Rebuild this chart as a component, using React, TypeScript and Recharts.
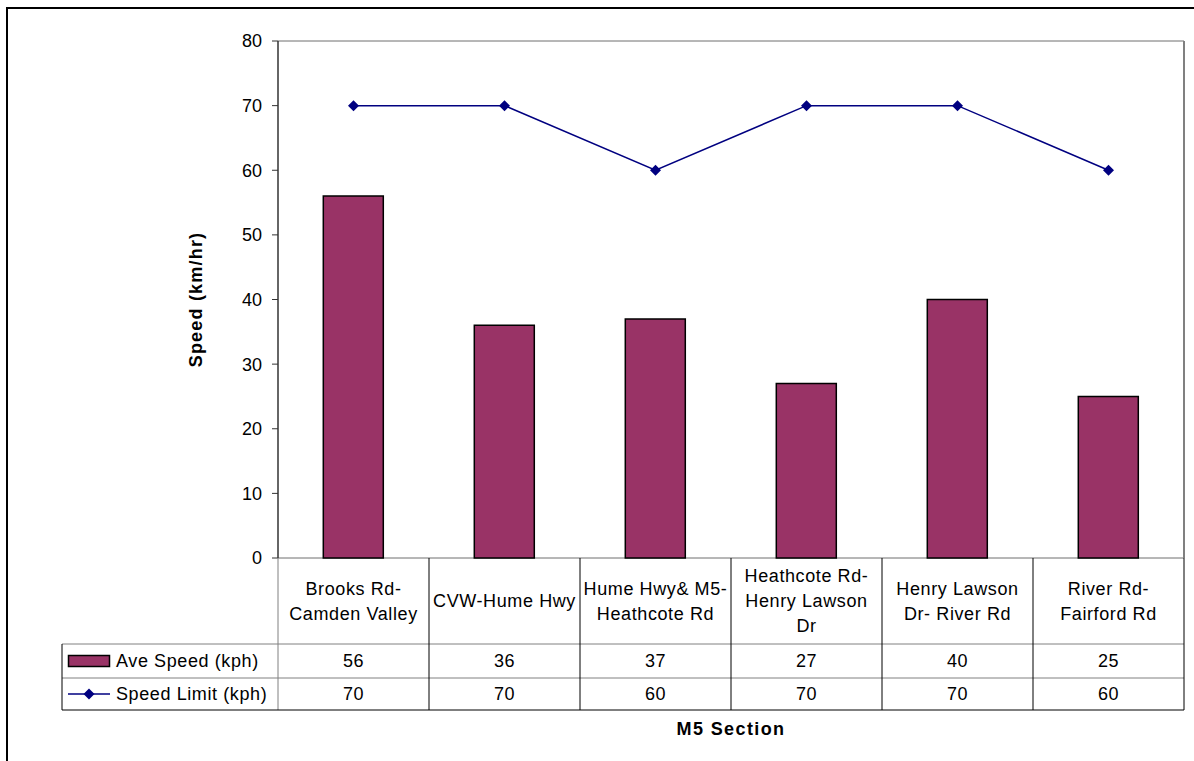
import React from "react";
import {
  ComposedChart,
  Bar,
  Line,
  XAxis,
  YAxis,
  CartesianGrid,
  Label,
} from "recharts";

// M5 sections along the x axis ("\n" splits the label inside the table cell)
const sections = [
  "Brooks Rd-\nCamden Valley",
  "CVW-Hume Hwy",
  "Hume Hwy& M5-\nHeathcote Rd",
  "Heathcote Rd-\nHenry Lawson\nDr",
  "Henry Lawson\nDr- River Rd",
  "River Rd-\nFairford Rd",
];
const aveSpeed = [56, 36, 37, 27, 40, 25];
const speedLimit = [70, 70, 60, 70, 70, 60];
const yTicks = [0, 10, 20, 30, 40, 50, 60, 70, 80];

const data = sections.map((name, i) => ({
  name,
  ave: aveSpeed[i],
  limit: speedLimit[i],
}));

const W = 1194;
const H = 761;
const PLOT_LEFT = 278;
const PLOT_RIGHT = 1184;
const TABLE_LEFT = 62;
const CELL_W = (PLOT_RIGHT - PLOT_LEFT) / sections.length;

const BAR_COLOR = "#993366";
const LINE_COLOR = "#000080";
const FONT = "'Liberation Sans', Arial, sans-serif";

// table rows below the plot (offsets from the x axis line)
const HEADER_H = 86;
const ROW1_H = 34;
const ROW2_H = 32;
const LINE_GAP = 25;

const Diamond = ({ cx, cy, r = 5.5 }: { cx: number; cy: number; r?: number }) => (
  <path
    d={`M${cx},${cy - r} L${cx + r},${cy} L${cx},${cy + r} L${cx - r},${cy} Z`}
    fill={LINE_COLOR}
  />
);

const txt = {
  fontFamily: FONT,
  fontSize: 18,
  fill: "#000",
  letterSpacing: 0.6,
};

// draws one column of the data table, plus the row headers for the first one
const TableTick = (props: any) => {
  const { x, y, payload, index } = props;
  const lines: string[] = String(payload.value).split("\n");
  const left = x - CELL_W / 2;
  const right = x + CELL_W / 2;
  const row1 = y + HEADER_H;
  const row2 = row1 + ROW1_H;
  const bottom = row2 + ROW2_H;
  const headerMid = y + HEADER_H / 2;
  const firstLine = headerMid - ((lines.length - 1) * LINE_GAP) / 2;
  return (
    <g>
      {index === 0 && (
        <g>
          <line x1={left} y1={y} x2={left} y2={bottom} stroke="#808080" />
          <line x1={TABLE_LEFT} y1={row1} x2={PLOT_RIGHT} y2={row1} stroke="#808080" />
          <line x1={TABLE_LEFT} y1={row2} x2={PLOT_RIGHT} y2={row2} stroke="#808080" />
          <line x1={TABLE_LEFT} y1={bottom} x2={PLOT_RIGHT} y2={bottom} stroke="#000" />
          <line x1={TABLE_LEFT} y1={row1} x2={TABLE_LEFT} y2={bottom} stroke="#000" />
          <rect
            x={TABLE_LEFT + 6.5}
            y={row1 + ROW1_H / 2 - 5.5}
            width={41}
            height={11}
            fill={BAR_COLOR}
            stroke="#000"
            strokeWidth={1.5}
          />
          <text {...txt} x={TABLE_LEFT + 54} y={row1 + ROW1_H / 2} dominantBaseline="central">
            Ave Speed (kph)
          </text>
          <line
            x1={TABLE_LEFT + 6}
            y1={row2 + ROW2_H / 2}
            x2={TABLE_LEFT + 48}
            y2={row2 + ROW2_H / 2}
            stroke={LINE_COLOR}
            strokeWidth={1.5}
          />
          <Diamond cx={TABLE_LEFT + 27} cy={row2 + ROW2_H / 2} />
          <text {...txt} x={TABLE_LEFT + 54} y={row2 + ROW2_H / 2} dominantBaseline="central">
            Speed Limit (kph)
          </text>
        </g>
      )}
      <line x1={right} y1={y} x2={right} y2={bottom} stroke="#000" />
      {lines.map((l, i) => (
        <text
          key={i}
          {...txt}
          x={x}
          y={firstLine + i * LINE_GAP}
          textAnchor="middle"
          dominantBaseline="central"
        >
          {l}
        </text>
      ))}
      <text {...txt} x={x} y={row1 + ROW1_H / 2} textAnchor="middle" dominantBaseline="central">
        {aveSpeed[index]}
      </text>
      <text {...txt} x={x} y={row2 + ROW2_H / 2} textAnchor="middle" dominantBaseline="central">
        {speedLimit[index]}
      </text>
    </g>
  );
};

export default function App() {
  return (
    <div
      style={{
        position: "absolute",
        left: 0,
        top: 0,
        width: W,
        height: H,
        overflow: "hidden",
        background: "#fff",
      }}
    >
      <div
        style={{
          position: "absolute",
          left: 6,
          top: 7,
          width: W + 20,
          height: H + 20,
          borderTop: "2px solid #000",
          borderLeft: "2px solid #000",
        }}
      />
      <div style={{ position: "absolute", left: 0, top: 0 }}>
        <ComposedChart
          width={W}
          height={H}
          data={data}
          margin={{ top: 41, right: 0, bottom: 0, left: 0 }}
          barCategoryGap="30%"
        >
          <CartesianGrid vertical={false} stroke="#6e6e6e" />
          <XAxis
            dataKey="name"
            height={H - 558}
            axisLine={false}
            tickLine={false}
            tickSize={0}
            tickMargin={0}
            interval={0}
            tick={<TableTick />}
          >
            <Label
              content={({ viewBox }: any) => (
                <text
                  x={viewBox.x + viewBox.width / 2}
                  y={viewBox.y + viewBox.height - 32}
                  textAnchor="middle"
                  dominantBaseline="central"
                  fontFamily={FONT}
                  fontSize={18}
                  fontWeight="bold"
                  letterSpacing={1.4}
                >
                  M5 Section
                </text>
              )}
            />
          </XAxis>
          <YAxis
            yAxisId="left"
            width={PLOT_LEFT}
            domain={[0, 80]}
            ticks={yTicks}
            interval={0}
            axisLine={{ stroke: "#333", strokeWidth: 1.5 }}
            tickLine={{ stroke: "#333" }}
            tickSize={6}
            tickMargin={10}
            tick={{ fontFamily: FONT, fontSize: 18, fill: "#000" }}
          >
            <Label
              content={({ viewBox }: any) => {
                const cx = 196;
                const cy = viewBox.y + viewBox.height / 2;
                return (
                  <text
                    x={cx}
                    y={cy}
                    transform={`rotate(-90 ${cx} ${cy})`}
                    textAnchor="middle"
                    dominantBaseline="central"
                    fontFamily={FONT}
                    fontSize={18}
                    fontWeight="bold"
                    letterSpacing={1.2}
                  >
                    Speed (km/hr)
                  </text>
                );
              }}
            />
          </YAxis>
          <YAxis
            yAxisId="right"
            orientation="right"
            width={W - PLOT_RIGHT}
            domain={[0, 80]}
            tick={false}
            tickLine={false}
            axisLine={{ stroke: "#808080", strokeWidth: 2 }}
          />
          <Bar
            yAxisId="left"
            dataKey="ave"
            fill={BAR_COLOR}
            stroke="#000"
            strokeWidth={1.5}
            isAnimationActive={false}
          />
          <Line
            yAxisId="left"
            dataKey="limit"
            type="linear"
            stroke={LINE_COLOR}
            strokeWidth={1.5}
            dot={(p: any) => <Diamond key={p.index} cx={p.cx} cy={p.cy} />}
            activeDot={false}
            isAnimationActive={false}
          />
        </ComposedChart>
      </div>
    </div>
  );
}
